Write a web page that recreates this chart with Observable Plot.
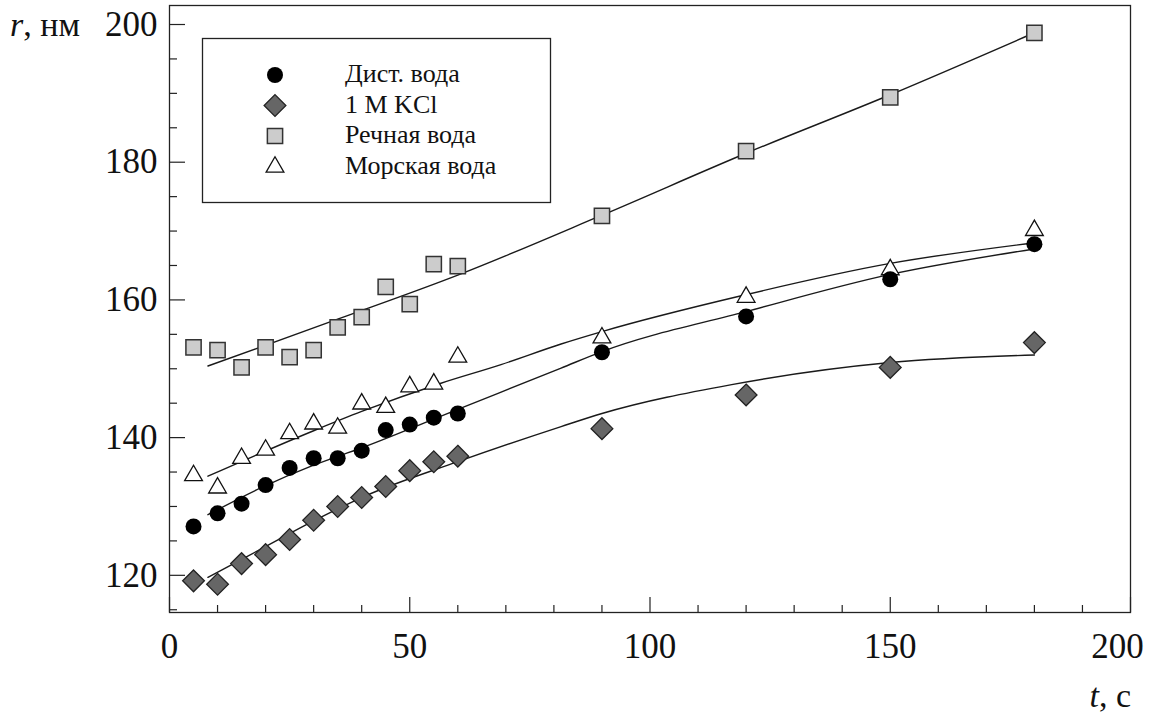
<!DOCTYPE html>
<html>
<head>
<meta charset="utf-8">
<script src="https://cdn.jsdelivr.net/npm/d3@7"></script>
<script src="https://cdn.jsdelivr.net/npm/@observablehq/plot@0.6"></script>
<style>
  html, body { margin: 0; padding: 0; background: #fff; }
  #chart svg { display: block; }
</style>
</head>
<body>
<div id="chart"></div>
<script>
// Measurement times, s
const times = [5, 10, 15, 20, 25, 30, 35, 40, 45, 50, 55, 60, 90, 120, 150, 180];

// Particle radius r, nm
const distWater  = [127.1, 129.0, 130.4, 133.1, 135.6, 137.0, 137.0, 138.1, 141.1, 141.9, 142.9, 143.5, 152.4, 157.6, 163.0, 168.1];
const kcl1M      = [119.2, 118.7, 121.7, 123.0, 125.2, 128.0, 130.0, 131.3, 132.9, 135.2, 136.5, 137.3, 141.3, 146.2, 150.2, 153.8];
const riverWater = [153.1, 152.7, 150.2, 153.1, 151.7, 152.7, 156.0, 157.5, 161.9, 159.4, 165.2, 164.9, 172.2, 181.6, 189.4, 198.8];
const seaWater   = [134.5, 132.7, 137.0, 138.2, 140.6, 142.0, 141.4, 144.9, 144.4, 147.4, 147.8, 151.7, 154.5, 160.4, 164.4, 170.1];

// Smoothed trend curves (nodes along each fitted line)
const fitDistT  = [8, 19, 30, 40, 60, 81.5, 90, 120, 150, 180];
const fitDistR  = [128.8, 132.7, 136.0, 138.5, 144.1, 150.1, 152.5, 158.3, 163.7, 167.4];
const fitKclT   = [8, 19, 30, 40, 60, 81.5, 90, 117, 150, 180];
const fitKclR   = [119.7, 123.8, 127.9, 131.3, 136.5, 141.6, 143.5, 147.7, 150.9, 152.0];
const fitRiverT = [8, 35, 60, 90, 120, 150, 180];
const fitRiverR = [150.4, 157.2, 163.6, 172.3, 181.3, 189.8, 198.8];
const fitSeaT   = [8, 30, 40, 56.5, 69, 81.5, 90, 119, 150, 180];
const fitSeaR   = [134.4, 141.0, 143.8, 147.9, 150.6, 153.6, 155.4, 160.6, 165.3, 168.3];

// Axis ticks
const xMajorTicks = [0, 50, 100, 150, 200];
const xMinorTicks = d3.range(10, 200, 10).filter(v => v % 50 !== 0);
const yMajorTicks = [120, 140, 160, 180, 200];
const yMinorTicks = d3.range(115, 201, 5).filter(v => v % 20 !== 0);

// Legend entries
const seriesNames = ["Дист. вода", "1 M KCl", "Речная вода", "Морская вода"];

const toRows = (ts, rs) => ts.map((t, i) => ({t, r: rs[i]}));

const W = 1153, H = 717;
const mL = 169, mR = 23, mT = 5, mB = 105;
const innerW = W - mL - mR, innerH = H - mT - mB;
const serif = "\"Liberation Serif\", Tinos, \"Times New Roman\", serif";
const lineStyle = {x: "t", y: "r", stroke: "#1a1a1a", strokeWidth: 1.4, curve: "monotone-x"};
const xLabelStyle = {tickSize: 0, tickPadding: 21, fontSize: 35, label: null, fontFamily: serif};

const chart = Plot.plot({
  width: W,
  height: H,
  marginLeft: mL,
  marginRight: mR,
  marginTop: mT,
  marginBottom: mB,
  style: {fontFamily: serif, background: "#fff", color: "#111", overflow: "visible"},
  x: {domain: [0, 200]},
  y: {domain: [114.6, 202.76]},
  marks: [
    Plot.frame({stroke: "#222", strokeWidth: 1.3}),
    // inward ticks on the bottom and left axes
    Plot.tickX(xMinorTicks, {x: d => d, insetTop: innerH - 7, stroke: "#222", strokeWidth: 1.2}),
    Plot.tickX(xMajorTicks, {x: d => d, insetTop: innerH - 15, stroke: "#222", strokeWidth: 1.2}),
    Plot.tickY(yMinorTicks, {y: d => d, insetRight: innerW - 8, stroke: "#222", strokeWidth: 1.2}),
    Plot.tickY(yMajorTicks, {y: d => d, insetRight: innerW - 16, stroke: "#222", strokeWidth: 1.2}),
    // the last x label is pulled inside the page edge
    Plot.axisX({...xLabelStyle, ticks: xMajorTicks.slice(0, -1)}),
    Plot.axisX({...xLabelStyle, ticks: xMajorTicks.slice(-1), dx: -13}),
    Plot.axisY({ticks: yMajorTicks, tickSize: 0, tickPadding: 12, fontSize: 35, label: null, fontFamily: serif}),
    // fitted curves
    Plot.line(toRows(fitRiverT, fitRiverR), lineStyle),
    Plot.line(toRows(fitSeaT, fitSeaR), lineStyle),
    Plot.line(toRows(fitDistT, fitDistR), lineStyle),
    Plot.line(toRows(fitKclT, fitKclR), lineStyle),
    // measurements
    Plot.dot(toRows(times, riverWater), {x: "t", y: "r", symbol: "square", r: 8.6, fill: "#cccccc", stroke: "#333", strokeWidth: 1.5}),
    Plot.dot(toRows(times, seaWater), {x: "t", y: "r", symbol: "triangle", r: 6.6, fill: "#fff", stroke: "#111", strokeWidth: 1.3}),
    Plot.dot(toRows(times, kcl1M), {x: "t", y: "r", symbol: "diamond2", r: 9.8, fill: "#666666", stroke: "#222", strokeWidth: 1.3}),
    Plot.dot(toRows(times, distWater), {x: "t", y: "r", symbol: "circle", r: 8, fill: "#000", stroke: "none"})
  ]
});

document.getElementById("chart").append(chart);

// Axis titles and legend box
const svg = d3.select(chart);

const yTitle = svg.append("text")
  .attr("x", 10).attr("y", 36)
  .attr("text-anchor", "start")
  .attr("font-size", 34).attr("fill", "#111");
yTitle.append("tspan").attr("font-style", "italic").text("r");
yTitle.append("tspan").text(", нм");

const xTitle = svg.append("text")
  .attr("x", 1131).attr("y", 707)
  .attr("text-anchor", "end")
  .attr("font-size", 34).attr("fill", "#111");
xTitle.append("tspan").attr("font-style", "italic").text("t");
xTitle.append("tspan").text(", с");

const legend = svg.append("g");
legend.append("rect")
  .attr("x", 202.5).attr("y", 38.5).attr("width", 348).attr("height", 164)
  .attr("fill", "#fff").attr("stroke", "#222").attr("stroke-width", 1.3);

const legendSymbols = [
  {type: d3.symbolCircle, size: Math.PI * 64, fill: "#000", stroke: "none", sw: 0},
  {type: d3.symbolDiamond2, size: Math.PI * 9.8 * 9.8, fill: "#666666", stroke: "#222", sw: 1.3},
  {type: d3.symbolSquare, size: Math.PI * 8.6 * 8.6, fill: "#cccccc", stroke: "#333", sw: 1.5},
  {type: d3.symbolTriangle, size: Math.PI * 6.6 * 6.6, fill: "#fff", stroke: "#111", sw: 1.3}
];
const rowY = [75, 105.5, 136, 167];

seriesNames.forEach((name, i) => {
  const s = legendSymbols[i];
  legend.append("path")
    .attr("transform", `translate(275,${rowY[i]})`)
    .attr("d", d3.symbol(s.type, s.size)())
    .attr("fill", s.fill).attr("stroke", s.stroke).attr("stroke-width", s.sw);
  legend.append("text")
    .attr("x", 345).attr("y", rowY[i] + 7)
    .attr("text-anchor", "start")
    .attr("font-size", 26).attr("fill", "#111")
    .text(name);
});

// one serif face for every label, tick numbers included
svg.selectAll("text, tspan")
  .style("font-family", serif)
  .style("font-variant-numeric", "normal");
</script>
</body>
</html>
